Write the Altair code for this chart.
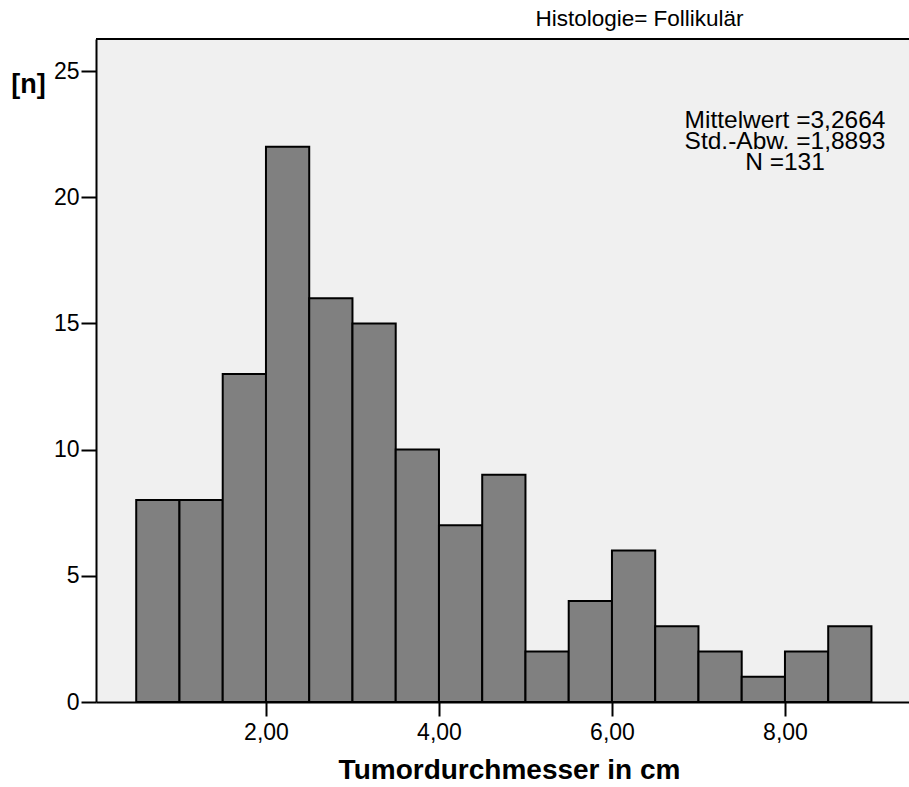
import altair as alt
import pandas as pd

# Histogram bins (cm) and counts
bin_start = [0.5, 1.0, 1.5, 2.0, 2.5, 3.0, 3.5, 4.0, 4.5, 5.0, 5.5, 6.0, 6.5, 7.0, 7.5, 8.0, 8.5]
bin_width = 0.5
counts = [8, 8, 13, 22, 16, 15, 10, 7, 9, 2, 4, 6, 3, 2, 1, 2, 3]

x_ticks = [2, 4, 6, 8]
y_ticks = [0, 5, 10, 15, 20, 25]

title_text = "Histologie= Follikulär"
stats_lines = ["Mittelwert =3,2664", "Std.-Abw. =1,8893", "N =131"]
x_title = "Tumordurchmesser in cm"
y_title = "[n]"

df = pd.DataFrame({
    "start": bin_start,
    "end": [s + bin_width for s in bin_start],
    "count": counts,
})

FONT = "Liberation Sans"
W, H = 813, 663

x_scale = alt.Scale(domain=[0.035, 9.434], nice=False, zero=False)
y_scale = alt.Scale(domain=[0, 26.27], nice=False)

bars = alt.Chart(df).mark_bar(
    color="#808080", stroke="black", strokeWidth=2
).encode(
    x=alt.X("start:Q", scale=x_scale,
            axis=alt.Axis(values=x_ticks, title=x_title,
                          labelExpr="replace(format(datum.value, '.2f'), '.', ',')",
                          grid=False, domainColor="black", domainWidth=2,
                          tickColor="black", tickWidth=2, tickSize=14,
                          labelFont=FONT, labelFontSize=23, labelColor="black",
                          labelPadding=5,
                          titleFont=FONT, titleFontSize=28, titleFontWeight="bold",
                          titleColor="black", titleX=413, titleY=68,
                          titleBaseline="middle", titleAlign="center")),
    x2="end:Q",
    y=alt.Y("count:Q", scale=y_scale,
            axis=alt.Axis(values=y_ticks, title=y_title, format="d",
                          grid=False, domainColor="black", domainWidth=2,
                          tickColor="black", tickWidth=2, tickSize=15,
                          labelFont=FONT, labelFontSize=23, labelColor="black",
                          labelPadding=2, labelBaseline="middle",
                          titleFont=FONT, titleFontSize=27, titleFontWeight="bold",
                          titleColor="black", titleAngle=0, titleX=-68, titleY=45,
                          titleBaseline="middle", titleAlign="center")),
    y2=alt.datum(0),
)

top_line = alt.Chart(df).mark_rule(color="black", strokeWidth=2).encode(
    x=alt.value(0), x2=alt.value(W), y=alt.value(0)
)

stats_df = pd.DataFrame({"text": ["\n".join(stats_lines)]})
stats = alt.Chart(stats_df).mark_text(
    font=FONT, fontSize=24.5, color="black", align="center", baseline="top",
    lineBreak="\n", lineHeight=21
).encode(
    x=alt.value(689), y=alt.value(70), text="text:N"
)

chart = alt.layer(bars, top_line, stats).properties(
    width=W, height=H,
    padding={"left": 96, "top": 39, "right": 0, "bottom": 85},
    autosize="none",
    background="white",
    title=alt.TitleParams(text=title_text, font=FONT, fontSize=22.5,
                          fontWeight="normal", color="black",
                          anchor="middle", dx=137, offset=8),
).configure_view(fill="#f0f0f0", stroke=None)

chart.save("out.html", embed_options={"renderer": "svg", "actions": False})
